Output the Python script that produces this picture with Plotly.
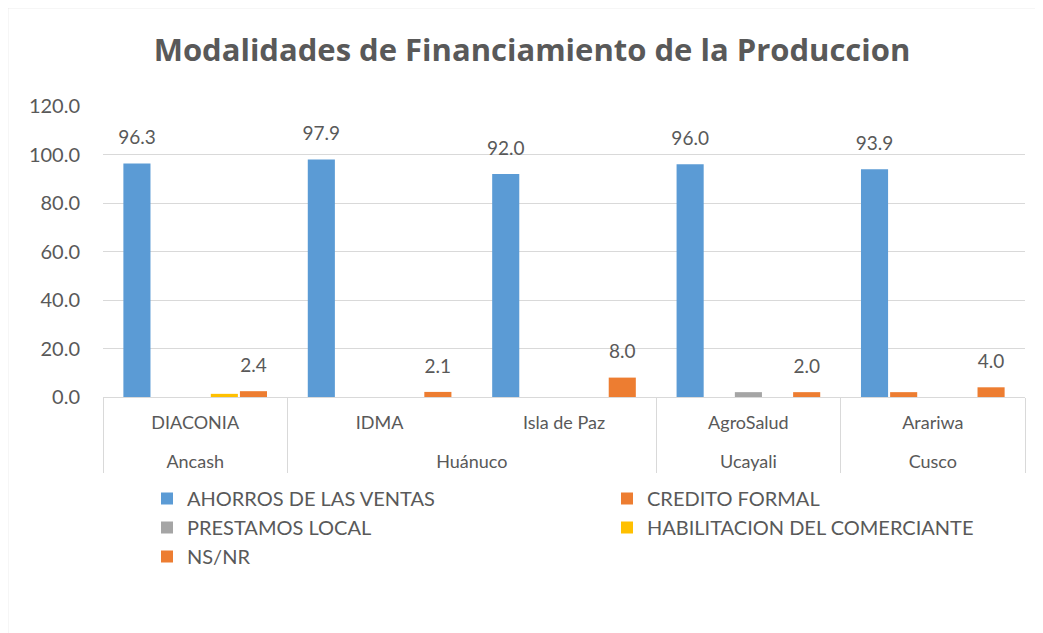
import plotly.graph_objects as go

regions = ["Ancash", "Huánuco", "Huánuco", "Ucayali", "Cusco"]
orgs = ["DIACONIA", "IDMA", "Isla de Paz", "AgroSalud", "Arariwa"]

series_names = ["AHORROS DE LAS VENTAS", "CREDITO FORMAL", "PRESTAMOS LOCAL",
                "HABILITACION DEL COMERCIANTE", "NS/NR"]
ahorros = [96.3, 97.9, 92.0, 96.0, 93.9]
credito = [0.0, 0.0, 0.0, 0.0, 2.0]
prestamos = [0.0, 0.0, 0.0, 2.0, 0.0]
habilitacion = [1.3, 0.0, 0.0, 0.0, 0.0]
nsnr = [2.4, 2.1, 8.0, 2.0, 4.0]

y_ticks = [0, 20, 40, 60, 80, 100, 120]

colors = ["#5B9BD5", "#ED7D31", "#A5A5A5", "#FFC000", "#ED7D31"]
labelled = [True, False, False, False, True]
legend_col = ["legend", "legend2", "legend", "legend2", "legend"]
values = [ahorros, credito, prestamos, habilitacion, nsnr]

FONT = "Lato, Calibri, Carlito, sans-serif"
TITLE_FONT = "Open Sans, Calibri, sans-serif"
GREY = "#595959"
LABEL_GAP = 5.0  # label lift above bar end (axis units)

# the page has an 8px body margin; work in page coordinates and convert
OFF = 8
W, H = 1043 - OFF, 633 - OFF
L, R, T, B = 103 - OFF, 18, 106 - OFF, 236
pw = W - L - R
ph = H - T - B

def px(xp):
    return (xp - OFF - L) / pw

def py(yp):
    return (H - B - (yp - OFF)) / ph

x_outer = regions
x_inner = [o + "<br><span style='font-size:24px'> </span>" for o in orgs]

fig = go.Figure()
for i, (name, vals, col, leg) in enumerate(zip(series_names, values, colors, legend_col)):
    fig.add_trace(go.Bar(x=[x_outer, x_inner], y=vals, name=name,
                         offsetgroup=str(i), legend=leg,
                         marker=dict(color=col, line=dict(width=0)),
                         hovertemplate="%{y:.1f}<extra>" + name + "</extra>"))
for i, (name, vals, lab) in enumerate(zip(series_names, values, labelled)):
    if not lab:
        continue
    fig.add_trace(go.Bar(x=[x_outer, x_inner], y=[LABEL_GAP] * len(vals), base=vals,
                         offsetgroup=str(i), showlegend=False, hoverinfo="skip",
                         marker=dict(color="rgba(0,0,0,0)", line=dict(width=0)),
                         text=[f"{v:.1f}" for v in vals], textposition="outside",
                         constraintext="none", cliponaxis=False,
                         textfont=dict(size=19, color=GREY, family=FONT)))

fig.update_layout(
    width=W, height=H,
    margin=dict(l=L, r=R, t=T, b=B),
    paper_bgcolor="white", plot_bgcolor="white",
    barmode="group", bargap=0.21, bargroupgap=0.07,
    font=dict(family=FONT, color=GREY, size=18),
    title=dict(text="<b>Modalidades de Financiamiento de la Produccion</b>",
               x=(532 - OFF) / W, xref="container", xanchor="center",
               y=1 - (50 - OFF) / H, yanchor="middle",
               font=dict(size=31, color=GREY, family=TITLE_FONT)),
    showlegend=True,
    legend=dict(orientation="v", x=px(147), y=py(479), xanchor="left", yanchor="top",
                font=dict(size=20, color=GREY, family=FONT), tracegroupgap=0,
                bgcolor="rgba(0,0,0,0)"),
    legend2=dict(orientation="v", x=px(607), y=py(479), xanchor="left", yanchor="top",
                 font=dict(size=20, color=GREY, family=FONT), tracegroupgap=0,
                 bgcolor="rgba(0,0,0,0)"),
    xaxis=dict(type="multicategory", showgrid=False, showline=True,
               linecolor="#D9D9D9", linewidth=1.3,
               showdividers=True, dividercolor="#D9D9D9", dividerwidth=1.3,
               tickfont=dict(size=18, color=GREY, family=FONT),
               ticks="", ticklabelstandoff=9),
    yaxis=dict(range=[0, 120], tickvals=y_ticks, tickformat=".1f",
               showgrid=True, gridcolor="#D9D9D9", gridwidth=1.3,
               zeroline=False, showline=False, ticks="",
               ticklabelstandoff=22,
               tickfont=dict(size=20, color=GREY, family=FONT)),
    shapes=[
        dict(type="line", xref="paper", yref="paper",
             x0=px(7.5), x1=px(7.5), y0=py(7.5), y1=py(640),
             line=dict(color="#D9D9D9", width=1.5)),
        dict(type="line", xref="paper", yref="paper",
             x0=px(7.5), x1=px(1045), y0=py(7.5), y1=py(7.5),
             line=dict(color="#D9D9D9", width=1.5)),
    ],
)

fig.write_html("out.html")
